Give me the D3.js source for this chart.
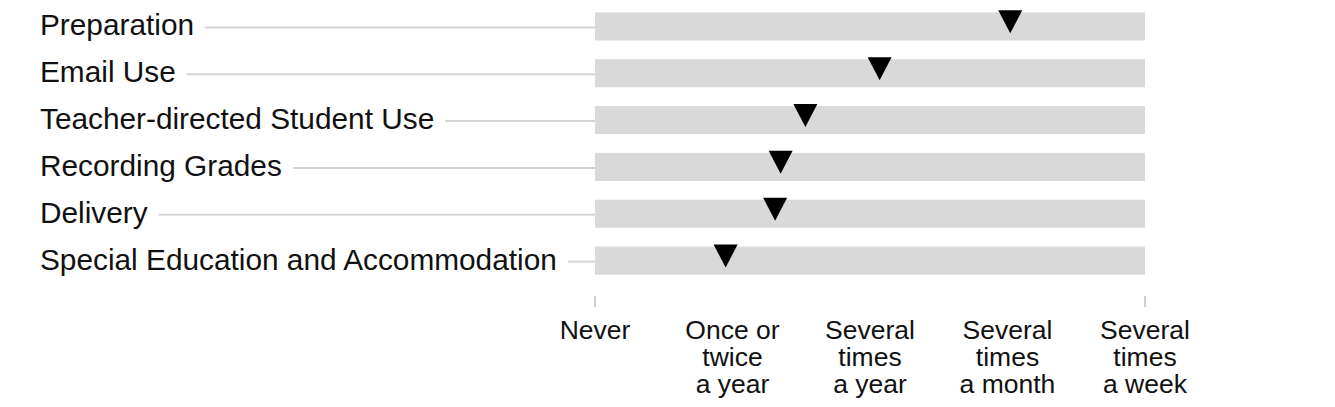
<!DOCTYPE html>
<html>
<head>
<meta charset="utf-8">
<script src="https://cdn.jsdelivr.net/npm/d3@7"></script>
<style>
  body { margin: 0; background: #fff; }
  text { font-family: "Liberation Sans", Arial, sans-serif; fill: #111; }
</style>
</head>
<body>
<div id="chart"></div>
<script>
// categories and their average frequency (0 = Never ... 4 = Several times a week)
var categories = ["Preparation", "Email Use", "Teacher-directed Student Use",
                  "Recording Grades", "Delivery", "Special Education and Accommodation"];
var values = [3.02, 2.07, 1.53, 1.35, 1.31, 0.95];
var tickLabels = [["Never"], ["Once or", "twice", "a year"], ["Several", "times", "a year"],
                  ["Several", "times", "a month"], ["Several", "times", "a week"]];

var W = 1335, H = 407;

var svg = d3.select("#chart")
  .append("svg")
    .attr("width", W)
    .attr("height", H);

var x = d3.scaleLinear()
  .domain([0, 4])
  .range([595, 1145]);

var y = d3.scaleBand()
  .domain(categories)
  .range([3, 284])
  .paddingInner(0.4)
  .paddingOuter(0.2);

var rows = svg.append("g")
  .selectAll("g")
  .data(categories)
  .enter()
  .append("g")
    .attr("transform", function (d) { return "translate(0," + (y(d) + y.bandwidth() / 2) + ")"; });

rows.append("rect")
  .attr("x", x(0))
  .attr("y", -y.bandwidth() / 2)
  .attr("width", x(4) - x(0))
  .attr("height", y.bandwidth())
  .attr("fill", "#d9d9d9");

var labels = rows.append("text")
  .attr("x", 40)
  .attr("y", 9)
  .attr("font-size", "29.8px")
  .text(function (d) { return d; });

// leader lines from label end to bar
labels.each(function () {
  var w = this.getComputedTextLength();
  d3.select(this.parentNode).append("line")
    .attr("x1", 40 + w + 11)
    .attr("x2", x(0))
    .attr("y1", 1)
    .attr("y2", 1)
    .attr("stroke", "#d4d4d4")
    .attr("stroke-width", 2);
});

// markers
rows.append("path")
  .attr("d", function (d, i) {
    var cx = x(values[i]), top = -y.bandwidth() / 2 - 2;
    return "M" + (cx - 12) + "," + top + "L" + (cx + 12) + "," + top + "L" + cx + "," + (top + 23) + "Z";
  })
  .attr("fill", "#000");

// axis ends
var axis = svg.append("g").attr("transform", "translate(0,296)");
axis.selectAll("line")
  .data([0, 4])
  .enter().append("line")
    .attr("x1", function (d) { return x(d); })
    .attr("x2", function (d) { return x(d); })
    .attr("y1", 0)
    .attr("y2", 11)
    .attr("stroke", "#cfcfcf")
    .attr("stroke-width", 2);

var tl = axis.selectAll("text")
  .data(tickLabels)
  .enter().append("text")
    .attr("x", function (d, i) { return x(i); })
    .attr("y", 43)
    .attr("text-anchor", "middle")
    .attr("font-size", "26.5px");

tl.selectAll("tspan")
  .data(function (d) { return d; })
  .enter().append("tspan")
    .attr("x", function () { return d3.select(this.parentNode).attr("x"); })
    .attr("dy", function (d, i) { return i === 0 ? 0 : 27; })
    .text(function (d) { return d; });
</script>
</body>
</html>
